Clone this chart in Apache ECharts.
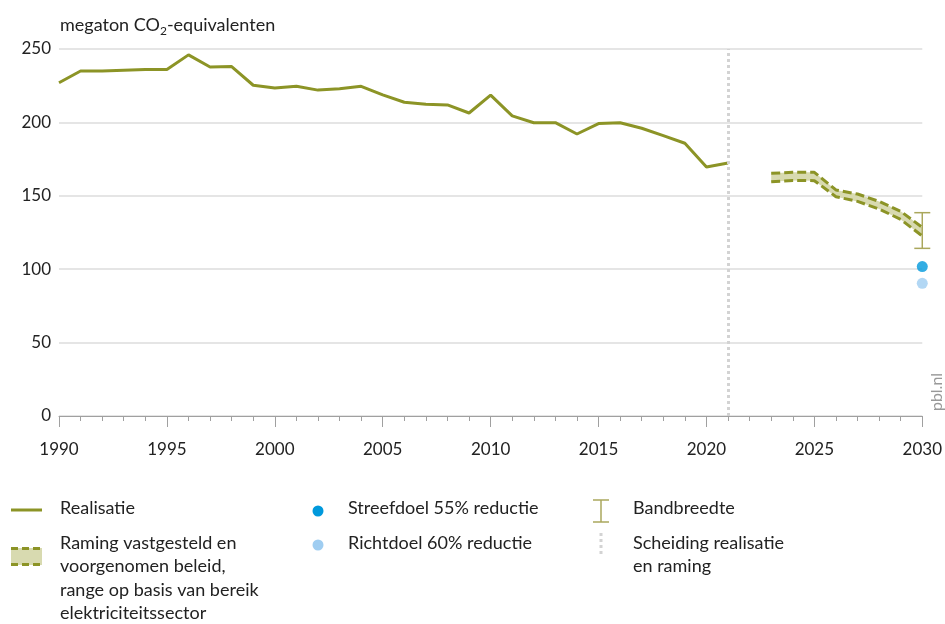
<!DOCTYPE html>
<html>
<head>
<meta charset="utf-8">
<script src="https://cdn.jsdelivr.net/npm/echarts@6/dist/echarts.min.js"></script>
<style>
html,body{margin:0;padding:0;background:#fff;}
#chart{width:945px;height:624px;}
</style>
</head>
<body>
<div id="chart"></div>
<script>
// ---- data ----
var realYears = [1990,1991,1992,1993,1994,1995,1996,1997,1998,1999,2000,2001,2002,2003,2004,2005,2006,2007,2008,2009,2010,2011,2012,2013,2014,2015,2016,2017,2018,2019,2020,2021];
var realValues = [227,235,235,235.5,236,236,246,237.7,238,225.3,223.5,224.6,222,223,224.6,218.7,213.7,212.3,211.9,206.4,218.6,204.4,199.8,199.8,192.1,199.2,199.8,196,191,185.8,169.6,172.4];
var bandYears = [2023,2024,2025,2026,2027,2028,2029,2030];
var bandHigh = [165.3,166,166,154,151.2,146.2,139.4,128.5];
var bandLow = [159.6,160.5,160.3,149.4,146.2,141,133.9,122.6];
var rangeYear = 2030;
var rangeHigh = 138.5;
var rangeLow = 114.2;
var targetYear = 2030;
var streefdoel55 = 101.8;
var richtdoel60 = 90.4;
var dividerYear = 2021;
var xTicks = [1990,1995,2000,2005,2010,2015,2020,2025,2030];
var yTicks = [0,50,100,150,200,250];

var OLIVE = '#8c9426';
var BANDFILL = '#d8dab0';
var BARCOL = '#aaa75c';
var BLUE = '#0099dc';
var LBLUE = '#9fcdf1';
var FONT = 'Lato, "Noto Sans", sans-serif';
var TXT = '#222';
var LF = '18px ' + FONT;

function pairs(xs, ys){ return xs.map(function(x,i){ return [x, ys[i]]; }); }

var chart = echarts.init(document.getElementById('chart'));

var g = [];
function txt(x, y, s){ g.push({type:'text', left:x, top:y-11, style:{text:s, font:LF, fill:TXT}}); }
// title
g.push({type:'text', left:60, top:16, style:{
  text:'{a|megaton CO}{s|2}{a|-equivalenten}',
  rich:{a:{font:LF, fill:TXT}, s:{font:'12px '+FONT, fill:TXT, verticalAlign:'bottom', padding:[12,0,0,0]}}
}});
// pbl.nl
g.push({type:'text', x:937, y:392, rotation:Math.PI/2, style:{text:'pbl.nl', font:'16px '+FONT, fill:'#999', align:'center', verticalAlign:'middle'}});
// col1
g.push({type:'line', shape:{x1:11,y1:510,x2:42,y2:510}, style:{stroke:OLIVE, lineWidth:3}});
txt(60,510,'Realisatie');
g.push({type:'rect', shape:{x:11,y:548,width:31,height:17}, style:{fill:BANDFILL}});
g.push({type:'line', shape:{x1:11,y1:548.5,x2:42,y2:548.5}, style:{stroke:OLIVE, lineWidth:3, lineDash:[7,4]}});
g.push({type:'line', shape:{x1:11,y1:564.5,x2:42,y2:564.5}, style:{stroke:OLIVE, lineWidth:3, lineDash:[7,4]}});
txt(60,545,'Raming vastgesteld en');
txt(60,568,'voorgenomen beleid,');
txt(60,592,'range op basis van bereik');
txt(60,615,'elektriciteitssector');
// col2
g.push({type:'circle', shape:{cx:318,cy:511,r:5.5}, style:{fill:BLUE}});
txt(348,510,'Streefdoel 55% reductie');
g.push({type:'circle', shape:{cx:318,cy:545,r:5.5}, style:{fill:LBLUE}});
txt(348,545,'Richtdoel 60% reductie');
// col3
g.push({type:'line', shape:{x1:601,y1:500,x2:601,y2:522}, style:{stroke:BARCOL, lineWidth:1.5}});
g.push({type:'line', shape:{x1:593,y1:500,x2:609,y2:500}, style:{stroke:BARCOL, lineWidth:1.5}});
g.push({type:'line', shape:{x1:593,y1:522,x2:609,y2:522}, style:{stroke:BARCOL, lineWidth:1.5}});
txt(633,510,'Bandbreedte');
g.push({type:'line', shape:{x1:601,y1:533,x2:601,y2:556}, style:{stroke:'#d3d3d3', lineWidth:3, lineDash:[3,3]}});
txt(633,545,'Scheiding realisatie');
txt(633,568,'en raming');

var option = {
  animation:false,
  backgroundColor:'#fff',
  grid:{left:59, right:21, top:49, bottom:208, containLabel:false},
  xAxis:{
    type:'value', min:1990, max:2030, interval:5,
    axisLine:{show:true, lineStyle:{color:'#a0a0a0', width:1}},
    axisTick:{show:true, length:11, lineStyle:{color:'#a0a0a0'}},
    minorTick:{show:true, splitNumber:5, length:5, lineStyle:{color:'#a0a0a0'}},
    splitLine:{show:false},
    axisLabel:{margin:25, color:TXT, fontSize:17, fontFamily:FONT, formatter:function(v){return xTicks.indexOf(v)>=0? String(v):'';}}
  },
  yAxis:{
    type:'value', min:0, max:250, interval:50,
    axisLine:{show:false}, axisTick:{show:false},
    splitLine:{lineStyle:{color:'#dcdcdc', width:1.5}},
    axisLabel:{margin:8, color:TXT, fontSize:17, fontFamily:FONT, formatter:function(v){return yTicks.indexOf(v)>=0? String(v):'';}}
  },
  graphic:g,
  series:[
    {
      type:'line', name:'divider', data:[], silent:true,
      markLine:{symbol:'none', silent:true, label:{show:false},
        lineStyle:{color:'#d3d3d3', width:3, type:[3,3]},
        data:[{xAxis:dividerYear}]}
    },
    {
      type:'custom', name:'band', silent:true,
      data:[[bandYears[0], bandLow[0]]],
      renderItem:function(params, api){
        var pts = [];
        for (var i=0;i<bandYears.length;i++) pts.push(api.coord([bandYears[i], bandHigh[i]]));
        for (var j=bandYears.length-1;j>=0;j--) pts.push(api.coord([bandYears[j], bandLow[j]]));
        return {type:'polygon', shape:{points:pts}, style:{fill:BANDFILL}};
      }
    },
    {type:'line', name:'high', data:pairs(bandYears, bandHigh), showSymbol:false, symbol:'none',
      lineStyle:{color:OLIVE, width:3, type:[9,4]}},
    {type:'line', name:'low', data:pairs(bandYears, bandLow), showSymbol:false, symbol:'none',
      lineStyle:{color:OLIVE, width:3, type:[9,4]}},
    {type:'line', name:'Realisatie', data:pairs(realYears, realValues), showSymbol:false, symbol:'none',
      lineStyle:{color:OLIVE, width:3}},
    {
      type:'custom', name:'Bandbreedte', silent:true,
      data:[[rangeYear, rangeHigh, rangeLow]],
      renderItem:function(params, api){
        var top = api.coord([api.value(0), api.value(1)]);
        var bot = api.coord([api.value(0), api.value(2)]);
        var st = {stroke:BARCOL, lineWidth:1.5, fill:null};
        return {type:'group', children:[
          {type:'line', shape:{x1:top[0],y1:top[1],x2:bot[0],y2:bot[1]}, style:st},
          {type:'line', shape:{x1:top[0]-8,y1:top[1],x2:top[0]+8,y2:top[1]}, style:st},
          {type:'line', shape:{x1:bot[0]-8,y1:bot[1],x2:bot[0]+8,y2:bot[1]}, style:st}
        ]};
      }
    },
    {type:'scatter', name:'Streefdoel', data:[[targetYear, streefdoel55]], symbolSize:11, itemStyle:{color:BLUE}},
    {type:'scatter', name:'Richtdoel', data:[[targetYear, richtdoel60]], symbolSize:11, itemStyle:{color:LBLUE}}
  ]
};
chart.setOption(option);
</script>
</body>
</html>
